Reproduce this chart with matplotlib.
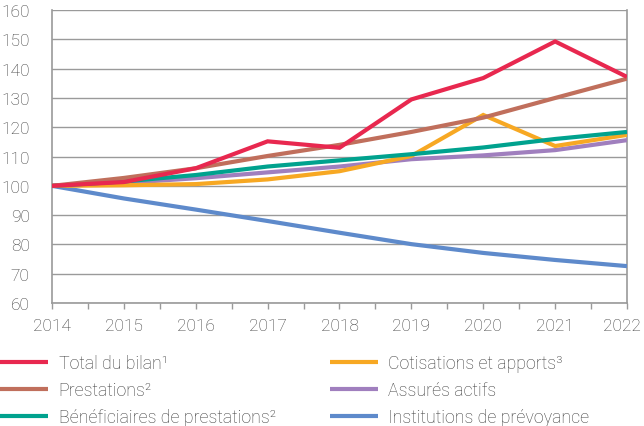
import matplotlib.pyplot as plt
import matplotlib.transforms as mtransforms
from matplotlib.ticker import MultipleLocator

plt.rcParams['font.family'] = ['Roboto', 'DejaVu Sans']

years = [2014, 2015, 2016, 2017, 2018, 2019, 2020, 2021, 2022]
total_bilan = [100, 101.3, 106, 115.2, 113, 129.5, 136.8, 149.3, 137.2]
prestations = [100, 102.7, 106, 110.2, 114, 118.4, 123.3, 130, 136.6]
beneficiaires = [100, 101.5, 103.7, 106.6, 108.7, 110.8, 113.1, 116, 118.4]
assures = [100, 101, 102.6, 104.6, 106.6, 109.1, 110.4, 112.2, 115.6]
cotisations = [100, 100.2, 100.6, 102.2, 105, 110.2, 124.2, 113.6, 117.4]
institutions = [100, 95.7, 91.9, 88, 84, 80.1, 77.1, 74.7, 72.6]

labels = ['Total du bilan¹', 'Prestations²', 'Bénéficiaires de prestations²',
          'Cotisations et apports³', 'Assurés actifs', 'Institutions de prévoyance']
colors = ['#E8284F', '#C06F5C', '#00A28E', '#F7A823', '#A07FBE', '#5E8ACB']
series = [total_bilan, prestations, beneficiaires, cotisations, assures, institutions]

fig = plt.figure(figsize=(6.44, 4.27), dpi=100)
ax = fig.add_axes([0.0807, 0.288, 0.8929, 0.686])

# blue at the back, red on top
lines = {}
for i in [5, 4, 3, 2, 1, 0]:
    ln, = ax.plot(years, series[i], color=colors[i], lw=3, label=labels[i],
                  solid_capstyle='butt', solid_joinstyle='miter', zorder=3 + (5 - i))
    lines[i] = ln

ax.set_xlim(2014, 2022)
ax.set_ylim(60, 160)
ax.yaxis.set_major_locator(MultipleLocator(10))
ax.set_xticks(years)
ax.xaxis.set_minor_locator(MultipleLocator(0.5))
ax.grid(axis='y', color='#9a9a9a', lw=1)
ax.set_axisbelow(True)

gray = '#9a9a9a'
for s in ['left', 'bottom', 'right']:
    ax.spines[s].set_color(gray)
    ax.spines[s].set_linewidth(1.2)
ax.spines['top'].set_visible(False)
ax.tick_params(axis='x', which='both', direction='out', color=gray, length=4, width=1)
ax.tick_params(axis='y', length=0, pad=16)
ax.tick_params(axis='x', pad=7)
ax.tick_params(labelsize=12.5, labelcolor='#3c3c3c')
for lab in ax.get_xticklabels() + ax.get_yticklabels():
    lab.set_fontweight('light')

# last year label nudged left so it stays inside the picture
last = ax.xaxis.get_major_ticks()[-1].label1
last.set_transform(last.get_transform() +
                   mtransforms.ScaledTranslation(-5 / 100, 0, fig.dpi_scale_trans))

leg_kw = dict(loc='upper left', frameon=False, labelcolor='#3c3c3c',
              prop={'size': 12.8, 'weight': 'light'},
              handlelength=2.7, handletextpad=0.6, labelspacing=0.5,
              borderaxespad=0, borderpad=0)
leg1 = fig.legend([lines[i] for i in range(3)], labels[:3],
                  bbox_to_anchor=(0.0, 0.168), **leg_kw)
leg2 = fig.legend([lines[i] for i in range(3, 6)], labels[3:],
                  bbox_to_anchor=(0.512, 0.168), **leg_kw)

fig.savefig('out.png', dpi=100)
